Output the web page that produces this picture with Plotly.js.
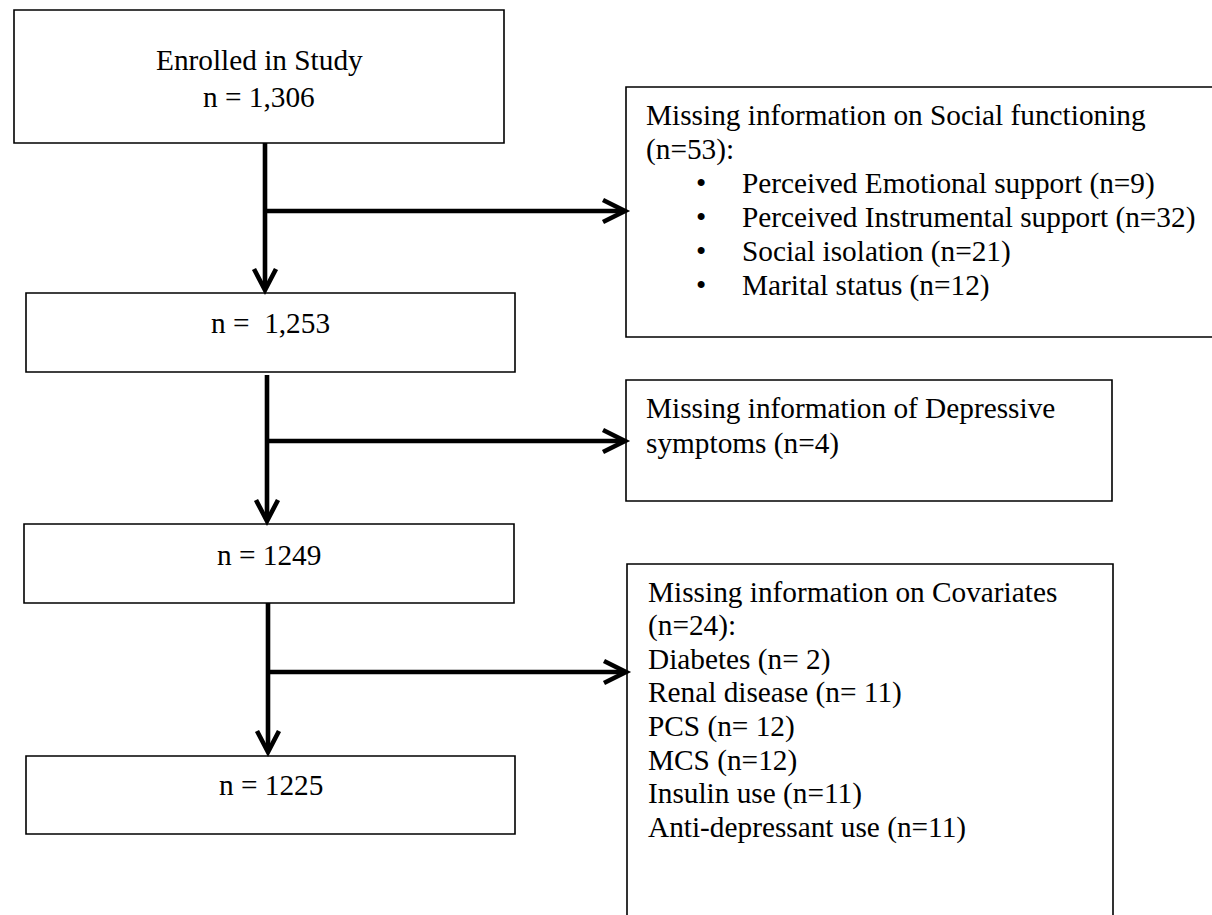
<!DOCTYPE html>
<html>
<head>
<meta charset="utf-8">
<script src="https://cdn.plot.ly/plotly-3.0.1.min.js"></script>
<style>
  html, body { margin: 0; padding: 0; background: #ffffff; overflow: hidden; }
  #chart { width: 1212px; height: 915px; }
</style>
</head>
<body>
<div id="chart"></div>
<script>
// ---------- DATA ----------
const stageLines = [
  ['Enrolled in Study', 'n = 1,306'],
  ['n =  1,253'],
  ['n = 1249'],
  ['n = 1225']
];
const socialHeader = ['Missing information on Social functioning', '(n=53):'];
const socialItems = [
  'Perceived Emotional support (n=9)',
  'Perceived Instrumental support (n=32)',
  'Social isolation (n=21)',
  'Marital status (n=12)'
];
const depressiveLines = ['Missing information of Depressive', 'symptoms (n=4)'];
const covariateLines = [
  'Missing information on Covariates',
  '(n=24):',
  'Diabetes (n= 2)',
  'Renal disease (n= 11)',
  'PCS (n= 12)',
  'MCS (n=12)',
  'Insulin use (n=11)',
  'Anti-depressant use (n=11)'
];

// ---------- GEOMETRY / STYLE ----------
const W = 1212, H = 915;
const FONT = {family: 'Liberation Serif, "Times New Roman", Times, serif', size: 29.3, color: '#000000'};
const BOX_LINE = {color: '#000000', width: 1.6};
const ARROW_LINE = {color: '#000000', width: 4.6};

const mainBoxes = [
  {x0: 14, x1: 504, y0: 10, y1: 143, textY: [60, 97]},
  {x0: 26, x1: 515, y0: 293, y1: 372, textY: [323]},
  {x0: 24, x1: 514, y0: 524, y1: 603, textY: [555]},
  {x0: 26, x1: 515, y0: 756, y1: 834, textY: [785]}
];
// side boxes: "open" marks sides that run off the page
const sideBoxes = [
  {x0: 626, x1: 1240, y0: 87, y1: 337, open: 'right'},
  {x0: 626, x1: 1112, y0: 380, y1: 501, open: null},
  {x0: 627, x1: 1113, y0: 564, y1: 940, open: 'bottom'}
];
const connectors = [
  {x: 265, yTop: 143, yTip: 290, branchY: 211, branchTip: 625},
  {x: 267, yTop: 375, yTip: 521, branchY: 441, branchTip: 625},
  {x: 268, yTop: 603, yTip: 752, branchY: 672, branchTip: 626}
];
const HEAD_LEN = 21, HEAD_HALF = 11;

const shapes = [];
const annotations = [];

function rect(b) {
  shapes.push({type: 'rect', xref: 'x', yref: 'y', x0: b.x0, x1: b.x1, y0: b.y0, y1: b.y1,
    line: BOX_LINE, fillcolor: 'rgba(0,0,0,0)', layer: 'above'});
}
function openBox(b) {
  let d;
  if (b.open === 'right') {
    d = `M ${b.x1},${b.y0} L ${b.x0},${b.y0} L ${b.x0},${b.y1} L ${b.x1},${b.y1}`;
  } else if (b.open === 'bottom') {
    d = `M ${b.x0},${b.y1} L ${b.x0},${b.y0} L ${b.x1},${b.y0} L ${b.x1},${b.y1}`;
  } else {
    return rect(b);
  }
  shapes.push({type: 'path', xref: 'x', yref: 'y', path: d, line: BOX_LINE, fillcolor: 'rgba(0,0,0,0)'});
}
function seg(x0, y0, x1, y1) {
  shapes.push({type: 'line', xref: 'x', yref: 'y', x0: x0, y0: y0, x1: x1, y1: y1, line: ARROW_LINE});
}
function path(d) {
  shapes.push({type: 'path', xref: 'x', yref: 'y', path: d, line: ARROW_LINE, fillcolor: 'rgba(0,0,0,0)'});
}
function text(x, y, t, anchor) {
  annotations.push({xref: 'x', yref: 'y', x: x, y: y, text: t, showarrow: false,
    xanchor: anchor, yanchor: 'middle', align: anchor === 'center' ? 'center' : 'left',
    font: FONT, borderpad: 0});
}

mainBoxes.forEach((b, i) => {
  rect(b);
  stageLines[i].forEach((t, j) => text((b.x0 + b.x1) / 2, b.textY[j], t, 'center'));
});
sideBoxes.forEach(openBox);

connectors.forEach(c => {
  seg(c.x, c.yTop, c.x, c.yTip - 2);
  path(`M ${c.x - HEAD_HALF},${c.yTip - HEAD_LEN} L ${c.x},${c.yTip} L ${c.x + HEAD_HALF},${c.yTip - HEAD_LEN}`);
  seg(c.x, c.branchY, c.branchTip - 2, c.branchY);
  path(`M ${c.branchTip - HEAD_LEN - 1},${c.branchY - HEAD_HALF} L ${c.branchTip},${c.branchY} L ${c.branchTip - HEAD_LEN - 1},${c.branchY + HEAD_HALF}`);
});

// side box 1 text
const s1 = {x: 645, bulletX: 695, itemX: 741, y0: 115, dy: 34};
socialHeader.forEach((t, i) => text(s1.x, s1.y0 + i * s1.dy, t, 'left'));
socialItems.forEach((t, i) => {
  const y = s1.y0 + (i + socialHeader.length) * s1.dy;
  text(s1.bulletX, y, '•', 'left');
  text(s1.itemX, y, t, 'left');
});
// side box 2 text
depressiveLines.forEach((t, i) => text(645, 408 + i * 35, t, 'left'));
// side box 3 text
covariateLines.forEach((t, i) => text(647, 592 + i * 33.6, t, 'left'));

const axisOff = {visible: false, showgrid: false, zeroline: false, fixedrange: true};
const layout = {
  width: W, height: H,
  margin: {l: 0, r: 0, t: 0, b: 0, pad: 0},
  paper_bgcolor: '#ffffff', plot_bgcolor: '#ffffff',
  xaxis: Object.assign({range: [0, W]}, axisOff),
  yaxis: Object.assign({range: [H, 0]}, axisOff),
  showlegend: false,
  shapes: shapes,
  annotations: annotations
};
Plotly.newPlot('chart', [{x: [], y: [], type: 'scatter', mode: 'markers', hoverinfo: 'skip'}], layout,
  {staticPlot: true, displayModeBar: false});
</script>
</body>
</html>
